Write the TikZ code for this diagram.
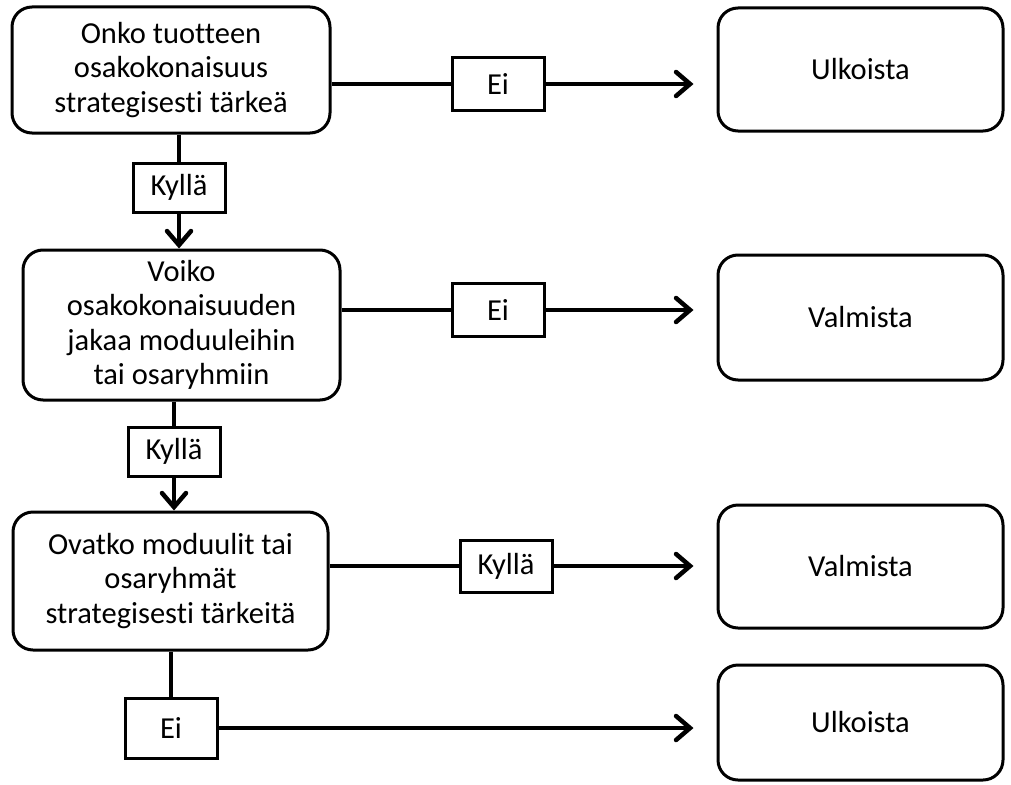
\documentclass[tikz,border=0pt]{standalone}
\usepackage{fontspec}
\setmainfont{Carlito}[Ligatures={NoCommon,NoContextual}]
\usetikzlibrary{calc,arrows.meta}

\begin{document}
\begin{tikzpicture}[x=1pt,y=-1pt,
  font=\fontsize{30.5}{34.5}\selectfont,
  decision/.style={draw,line width=3pt,rounded corners=20pt,align=center,
    minimum width=318pt,inner sep=0pt},
  result/.style={draw,line width=3pt,rounded corners=20pt,
    minimum width=285pt},
  answer/.style={draw,line width=3pt,minimum width=92pt,inner sep=0pt},
  link/.style={line width=4.5pt},
  linkarrow/.style={link,-{Straight Barb[length=14pt,width=24pt,line cap=round]},
    shorten >=23pt}]
  \useasboundingbox (0,0) rectangle (1011,784);

  % first question
  \node[decision,minimum height=126pt] (q1) at (171,70)
    {Onko tuotteen\\osakokonaisuus\\strategisesti tärkeä};
  \node[answer,minimum height=52pt] (e1) at (498,84) {Ei};
  \node[result,minimum height=123pt] (r1) at (860.5,69.5) {Ulkoista};
  \node[answer,minimum height=49pt] (k1) at (179,187.5) {Kyllä};

  % second question
  \node[decision,minimum width=317pt,minimum height=150pt] (q2) at (181.5,325)
    {Voiko\\osakokonaisuuden\\jakaa moduuleihin\\tai osaryhmiin};
  \node[answer,minimum height=53pt] (e2) at (498,310) {Ei};
  \node[result,minimum height=125pt] (r2) at (860.5,317.5) {Valmista};
  \node[answer,minimum height=49pt] (k2) at (174,451.5) {Kyllä};

  % third question
  \node[decision,minimum width=315pt,minimum height=138pt] (q3) at (170.5,581)
    {Ovatko moduulit tai\\osaryhmät\\strategisesti tärkeitä};
  \node[answer,minimum height=52pt] (k3) at (506,566) {Kyllä};
  \node[result,minimum height=123pt] (r3) at (860.5,566.5) {Valmista};
  \node[answer,minimum height=60pt] (e3) at (171,728) {Ei};
  \node[result,minimum height=115pt] (r4) at (860.5,722.5) {Ulkoista};

  % connectors
  \draw[link] (q1.east |- e1) -- (e1);
  \draw[linkarrow] (e1) -- (e1 -| r1.west);
  \draw[link] (q1.south -| k1) -- (k1);
  \draw[linkarrow,shorten >=0pt] (k1) -- (k1 |- q2.north);

  \draw[link] (q2.east |- e2) -- (e2);
  \draw[linkarrow] (e2) -- (e2 -| r2.west);
  \draw[link] (q2.south -| k2) -- (k2);
  \draw[linkarrow,shorten >=0pt] (k2) -- (k2 |- q3.north);

  \draw[link] (q3.east |- k3) -- (k3);
  \draw[linkarrow] (k3) -- (k3 -| r3.west);
  \draw[link] (q3.south -| e3) -- (e3);
  \draw[linkarrow] (e3) -- (e3 -| r4.west);
\end{tikzpicture}
\end{document}
